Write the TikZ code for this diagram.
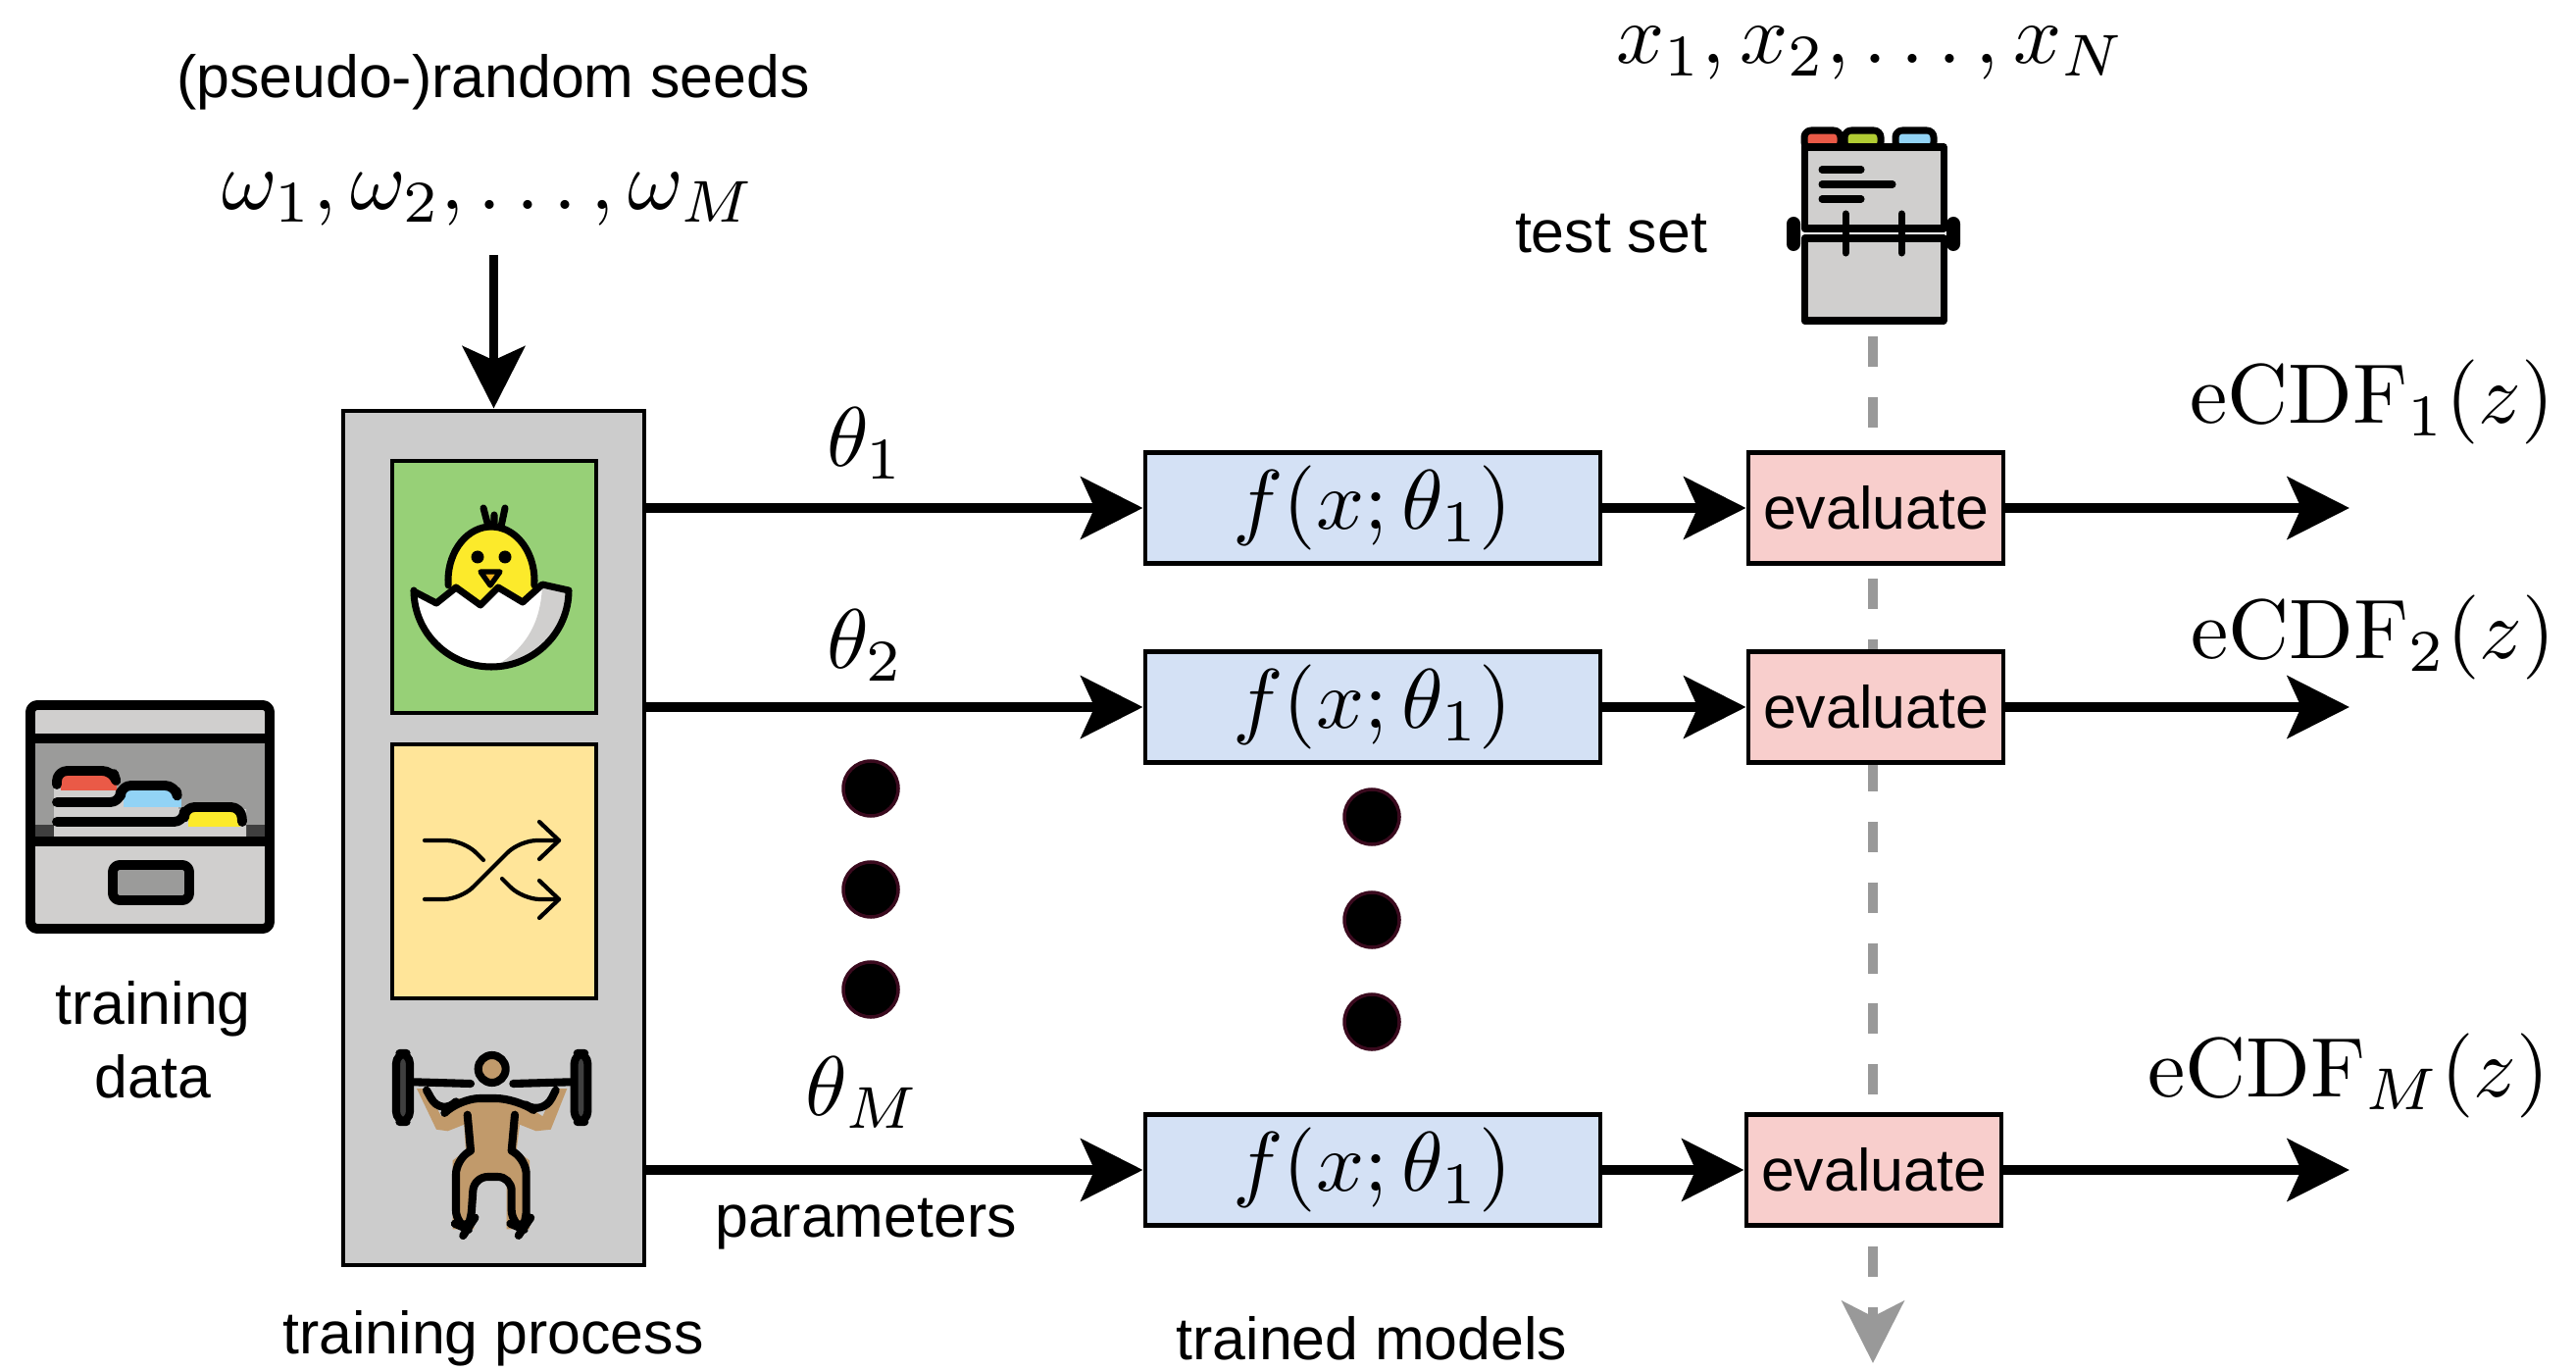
\documentclass[tikz,border=0pt]{standalone}
\usepackage[no-math]{fontspec}
\newfontfamily\labelfont{Liberation Sans}
\usepackage{tikz}
\usetikzlibrary{positioning,arrows.meta}

\definecolor{procgray}{HTML}{CCCCCC}
\definecolor{initgreen}{HTML}{97D077}
\definecolor{shufyellow}{HTML}{FFE599}
\definecolor{modelblue}{HTML}{D4E1F5}
\definecolor{evalred}{HTML}{F8CECC}
\definecolor{dashgray}{HTML}{999999}
\definecolor{iconlight}{HTML}{D0CFCE}
\definecolor{iconmid}{HTML}{9B9B9A}
\definecolor{icondark}{HTML}{3F3F3F}
\definecolor{tabred}{HTML}{EA5A47}
\definecolor{tabblue}{HTML}{92D3F5}
\definecolor{tabyellow}{HTML}{FCEA2B}
\definecolor{tabgreen}{HTML}{B1CC33}
\definecolor{beak}{HTML}{F1B31C}
\definecolor{skin}{HTML}{C19A6B}
\definecolor{dotrim}{HTML}{3A0A1E}

% math labels are set at 10pt and blown up
\newcommand{\bigmath}[1]{\scalebox{2.45}{$#1$}}

\tikzset{
  txt/.style={font=\labelfont\fontsize{17.3}{21.3}\selectfont, inner sep=0pt},
  mth/.style={inner sep=0pt},
  panel/.style={draw, line width=1.4pt, inner sep=0pt},
  model/.style={panel, fill=modelblue, minimum width=4.64cm, minimum height=1.13cm},
  evalbox/.style={txt, panel, fill=evalred, minimum width=2.6cm, minimum height=1.13cm},
  flow/.style={line width=2.8pt, -{Stealth[length=18pt,width=18pt,inset=4pt]}},
  ico/.style={line width=2pt, line cap=round, line join=round},
  dot/.style={circle, fill=black, draw=dotrim, line width=1pt, minimum size=0.56cm, inner sep=0pt},
}

\begin{document}
\begin{tikzpicture}
\useasboundingbox (0,0) rectangle (26.27,-13.98);

% card index for the test set
\begin{scope}[ico]
  \draw[fill=tabred, rounded corners=2pt] (18.40,-1.52) rectangle (18.77,-1.33);
  \draw[fill=tabgreen, rounded corners=2pt] (18.81,-1.52) rectangle (19.18,-1.33);
  \draw[fill=tabblue, rounded corners=2pt] (19.33,-1.52) rectangle (19.72,-1.33);
  \draw[fill=iconlight] (18.40,-1.50) rectangle (19.82,-2.33);
  \draw (18.58,-1.73) -- (18.98,-1.73);
  \draw (18.58,-1.88) -- (19.30,-1.88);
  \draw (18.58,-2.03) -- (18.98,-2.03);
  \draw[fill=iconlight] (18.40,-2.43) rectangle (19.82,-3.27);
  \fill[rounded corners=2pt] (18.22,-2.21) rectangle (18.36,-2.56);
  \fill[rounded corners=2pt] (19.85,-2.21) rectangle (19.99,-2.56);
  \draw (18.82,-2.18) -- (18.82,-2.58);
  \draw (19.39,-2.18) -- (19.39,-2.58);
\end{scope}
\coordinate (deck) at (19.10,-3.43);
\coordinate (sink) at (19.10,-13.90);
\draw[dashgray, line width=2.8pt, dash pattern=on 8.8pt off 8.8pt,
  -{Stealth[length=18pt,width=18pt,inset=4.5pt]}] (deck) -- (sink);

\node[txt] (testset) at (16.43,-2.38) {test set};
\node[mth] (xs) at (19.08,-0.54) {\bigmath{x_1,x_2,\ldots,x_N}};

% seeds going into the training process
\node[txt] (seeds) at (5.03,-0.84) {(pseudo-)random seeds};
\node[mth] (omegas) at (4.99,-2.03) {\bigmath{\omega_1,\omega_2,\ldots,\omega_M}};
\coordinate (seedin) at (5.035,-2.60);

\node[panel, fill=procgray, minimum width=3.07cm, minimum height=8.71cm] (proc) at (5.035,-8.545) {};
\node[panel, fill=initgreen, minimum width=2.08cm, minimum height=2.57cm] (init) at (5.04,-5.985) {};
\node[panel, fill=shufyellow, minimum width=2.08cm, minimum height=2.59cm] (shuf) at (5.04,-8.885) {};
\draw[flow] (seedin) -- (proc.north);

% hatching chick
\fill[tabyellow] (5.01,-5.92) ellipse (0.44 and 0.55);
\draw[ico] (5.01,-5.92) ++(185:0.44 and 0.55) arc[start angle=185, end angle=-5, x radius=0.44, y radius=0.55];
\draw[ico] (4.93,-5.18) -- (4.98,-5.37) (5.04,-5.25) -- (5.04,-5.37) (5.15,-5.18) -- (5.11,-5.37);
\fill (4.87,-5.68) circle (0.065) (5.15,-5.68) circle (0.065);
\draw[ico, line width=1.5pt, fill=beak] (4.90,-5.83) -- (5.10,-5.83) -- (5.00,-5.97) -- cycle;
\fill[white] (4.22,-6.03) -- (4.45,-6.15) -- (4.65,-5.99) -- (4.90,-6.17) -- (5.08,-5.99)
  -- (5.33,-6.14) -- (5.53,-5.96) -- (5.80,-6.02)
  arc[start angle=0, end angle=-180, x radius=0.79, y radius=0.78] -- cycle;
\fill[iconlight] (5.53,-5.96) -- (5.80,-6.02)
  arc[start angle=0, end angle=-88, x radius=0.79, y radius=0.78]
  .. controls (5.40,-6.60) and (5.52,-6.30) .. (5.53,-5.96);
\draw[ico] (4.22,-6.03) -- (4.45,-6.15) -- (4.65,-5.99) -- (4.90,-6.17) -- (5.08,-5.99)
  -- (5.33,-6.14) -- (5.53,-5.96) -- (5.80,-6.02)
  arc[start angle=0, end angle=-180, x radius=0.79, y radius=0.78] -- cycle;

% shuffle arrows
\begin{scope}[ico, line width=1.2pt, rounded corners=5pt]
  \draw (4.33,-8.57) -- (4.73,-8.57) -- (4.93,-8.77);
  \draw (4.33,-9.17) -- (4.70,-9.17) -- (5.30,-8.57) -- (5.70,-8.57);
  \draw (5.12,-8.96) -- (5.33,-9.17) -- (5.70,-9.17);
\end{scope}
\begin{scope}[ico, line width=1.2pt]
  \draw (5.50,-8.38) -- (5.70,-8.57) -- (5.50,-8.76);
  \draw (5.50,-8.98) -- (5.70,-9.17) -- (5.50,-9.36);
\end{scope}

% weight lifter
\fill[skin] (4.25,-11.10) -- (4.35,-11.10) -- (4.50,-11.383) -- (4.683,-11.20) -- (5.267,-11.20)
  -- (5.533,-11.383) -- (5.667,-11.10) -- (5.783,-11.10) -- (5.617,-11.517) -- (5.467,-11.533)
  -- (5.30,-11.467) -- (5.267,-11.733) -- (5.40,-11.833) -- (5.40,-12.533) -- (5.167,-12.533)
  -- (5.167,-12.033) -- (4.867,-12.033) -- (4.833,-12.533) -- (4.617,-12.533) -- (4.617,-11.833)
  -- (4.75,-11.733) -- (4.733,-11.467) -- (4.567,-11.533) -- (4.45,-11.517) -- cycle;
\begin{scope}[ico, line width=2.3pt]
  \draw[fill=icondark, rounded corners=3pt] (4.04,-10.74) rectangle (4.18,-11.44);
  \draw[fill=icondark, rounded corners=3pt] (5.857,-10.74) rectangle (5.993,-11.44);
  \draw (4.217,-11.033) -- (4.80,-11.05) (5.233,-11.05) -- (5.817,-11.033);
  \draw[fill=skin] (5.017,-10.90) circle (0.14);
  \draw[rounded corners=6pt] (4.35,-11.117) -- (4.50,-11.383) -- (4.683,-11.20) -- (5.267,-11.20)
    -- (5.533,-11.383) -- (5.667,-11.117);
  \draw (4.767,-11.367) -- (4.80,-11.733) (5.25,-11.367) -- (5.217,-11.733);
  \draw[rounded corners=4pt] (4.80,-11.733) -- (4.65,-11.833) -- (4.65,-12.483) -- (4.767,-12.533)
    -- (4.80,-12.483) -- (4.833,-12.00) -- (5.217,-12.00) -- (5.217,-12.483) -- (5.333,-12.533)
    -- (5.367,-12.483) -- (5.367,-11.833) -- (5.217,-11.733);
\end{scope}

% filing cabinet with the training data
\fill[iconlight] (0.31,-7.19) rectangle (2.75,-7.53);
\fill[iconmid] (0.31,-7.53) rectangle (2.75,-8.58);
\fill[icondark] (0.31,-8.41) rectangle (2.75,-8.58);
\fill[iconlight] (0.31,-8.58) rectangle (2.75,-9.47);
\fill[iconlight] (0.55,-7.90) -- (1.18,-7.90) -- (1.18,-8.05) -- (1.82,-8.05) -- (1.82,-8.25)
  -- (2.51,-8.25) -- (2.51,-8.58) -- (0.55,-8.58) -- cycle;
\fill[tabred] (0.62,-7.90) rectangle (1.19,-8.06);
\fill[tabblue] (1.26,-8.06) rectangle (1.85,-8.23);
\fill[tabyellow] (1.92,-8.27) rectangle (2.45,-8.43);
\begin{scope}[ico, line width=2.8pt]
  \draw[rounded corners=3pt] (0.58,-8.00) -- (0.58,-7.86) -- (1.15,-7.86) -- (1.16,-7.89);
  \draw[rounded corners=3pt] (0.58,-8.18) -- (1.23,-8.18) -- (1.23,-8.01) -- (1.79,-8.01) -- (1.80,-8.07);
  \draw[rounded corners=3pt] (0.58,-8.38) -- (1.88,-8.38) -- (1.88,-8.23) -- (2.46,-8.23) -- (2.47,-8.38);
  \draw (0.31,-7.53) -- (2.75,-7.53) (0.31,-8.58) -- (2.75,-8.58);
  \draw[fill=iconmid, rounded corners=2pt] (1.15,-8.82) rectangle (1.93,-9.18);
  \draw[rounded corners=2pt] (0.31,-7.19) rectangle (2.75,-9.47);
\end{scope}
\node[txt, align=center] (trdata) at (1.56,-10.60) {training\\data};

% trained models and their evaluation
\node[model] (f1) at (14.00,-5.18) {\bigmath{f(x;\theta_1)}};
\node[model] (f2) at (14.00,-7.21) {\bigmath{f(x;\theta_1)}};
\node[model] (fM) at (14.00,-11.93) {\bigmath{f(x;\theta_1)}};
\node[evalbox] (ev1) at (19.13,-5.18) {evaluate};
\node[evalbox] (ev2) at (19.13,-7.21) {evaluate};
\node[evalbox] (evM) at (19.11,-11.93) {evaluate};
\coordinate (o1) at (23.96,-5.18);
\coordinate (o2) at (23.96,-7.21);
\coordinate (oM) at (23.96,-11.93);

\draw[flow] (proc.east |- f1) -- (f1);
\draw[flow] (proc.east |- f2) -- (f2);
\draw[flow] (proc.east |- fM) -- (fM);
\draw[flow] (f1) -- (ev1);
\draw[flow] (f2) -- (ev2);
\draw[flow] (fM) -- (evM);
\draw[flow] (ev1) -- (o1);
\draw[flow] (ev2) -- (o2);
\draw[flow] (evM) -- (oM);

\node[mth] (th1) at (8.83,-4.52) {\bigmath{\theta_1}};
\node[mth] (th2) at (8.83,-6.58) {\bigmath{\theta_2}};
\node[mth] (thM) at (8.80,-11.14) {\bigmath{\theta_M}};
\node[txt] (params) at (8.83,-12.48) {parameters};

\node[mth] (cdf1) at (24.19,-4.10) {\bigmath{\mathrm{eCDF}_1(z)}};
\node[mth] (cdf2) at (24.20,-6.50) {\bigmath{\mathrm{eCDF}_2(z)}};
\node[mth] (cdfM) at (23.95,-10.97) {\bigmath{\mathrm{eCDF}_M(z)}};

\foreach \y in {-8.04,-9.07,-10.09} \node[dot] at (8.88,\y) {};
\foreach \y in {-8.33,-9.38,-10.42} \node[dot] at (13.99,\y) {};

\node[txt] (procname) at (5.03,-13.65) {training process};
\node[txt] (modelname) at (13.99,-13.65) {trained models};
\end{tikzpicture}
\end{document}
